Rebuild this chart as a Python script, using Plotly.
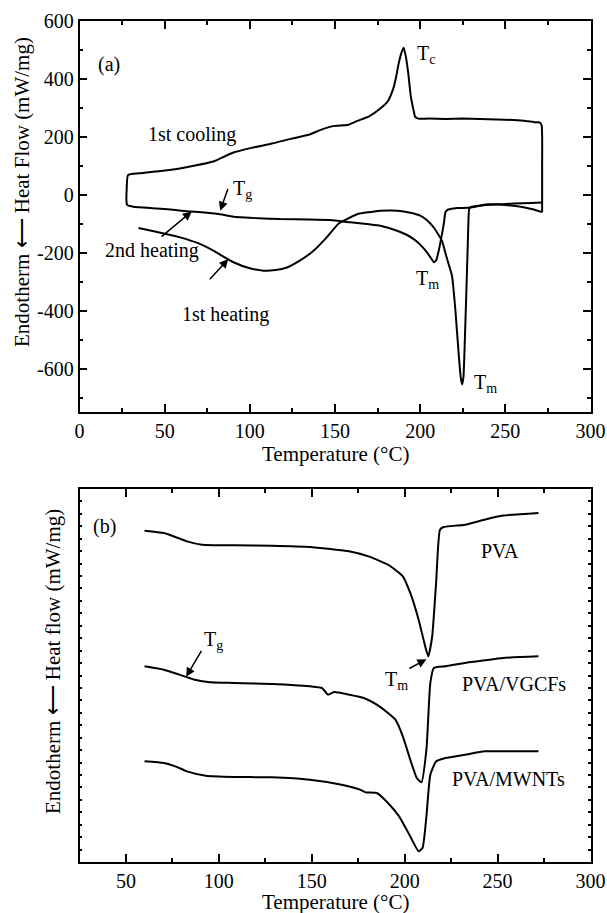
import plotly.graph_objects as go

# ---------- Panel (a) data ----------
heat1_x = [34.6, 45, 59, 70, 78.6, 90.4, 100, 108, 115, 121.8, 130, 137.4, 145, 152, 155, 163, 170, 176.6,
           183, 190.3, 195, 200, 204, 208, 212.8, 215, 216.7, 218.7, 220.7, 222.6, 223.8, 224.6, 225.4, 226.5,
           227.4, 227.9, 228.4, 228.8, 230, 235, 240, 250, 260, 266, 271.6]
heat1_y = [-115, -128, -147, -168, -193, -233, -254, -262, -260, -251, -225, -193, -148, -100, -90, -67, -60, -55,
           -54, -57.5, -63, -72, -88, -113, -159, -205, -239, -280, -400, -549, -630, -655, -630, -450,
           -280, -180, -80, -48, -42, -37, -33, -35, -42, -50, -60]

cool_x = [271.6, 271.6, 271.3, 270, 267.7, 262, 255, 245, 235, 225, 215, 205, 199, 197, 196.2, 194.5, 193, 191.5,
          190.3, 189, 187.3, 186, 184.4, 181, 176.6, 170, 163, 158, 149, 142, 135, 124, 113, 101, 90, 78.6, 67,
          56, 44, 35, 28.5, 27.7, 27.7, 28.2]
cool_y = [-60, 100, 240, 250, 250, 255, 258, 260, 262, 263, 262, 263, 263, 270, 290, 340, 420, 480,
          508, 490, 451, 410, 370, 323, 298, 271, 255, 242, 237, 225, 208, 193, 177, 162, 145, 115, 100,
          88, 80, 74, 68, 20, -30, -37]

heat2_x = [28.2, 31.6, 45, 55, 64.9, 75, 82.6, 88, 94.3, 105, 117.8, 135, 147.2, 158.9, 170, 176.6, 186.4, 192,
           196.2, 200, 204, 206.5, 208, 209.5, 210.9, 212.8, 214, 214.8, 216, 217.7, 222, 229.5, 235.4, 245,
           255, 265, 272]
heat2_y = [-37, -41, -47, -52, -57.5, -62, -67, -73, -78, -81, -84, -85, -87, -95, -102, -107, -124, -138,
           -153, -172, -199, -220, -233, -225, -193, -136, -95, -61, -52, -49, -46, -44, -38, -33,
           -30, -28, -27]

a_yticks = [-600, -400, -200, 0, 200, 400, 600]
a_yticklabels = ["-600", "-400", "-200", "0", "200", "400", "600"]

# ---------- Panel (b) data (arbitrary units) ----------
pva_x = [60, 70.4, 76.6, 82.8, 91, 108, 128.6, 149, 160, 170, 180.5, 191, 199, 203, 207.5, 210.6, 212.7,
         214.8, 216.9, 219, 221, 232.5, 242.9, 253, 272]
pva_y = [26.65, 26.46, 26.14, 25.79, 25.52, 25.47, 25.44, 25.34, 25.17, 24.99, 24.58, 23.91, 22.98, 21.64,
         19.49, 17.61, 16.54, 18.15, 22.44, 26.73, 26.94, 27.13, 27.53, 27.86, 28.07]

vgcf_x = [60, 70.4, 78.7, 87, 95.3, 108, 128.6, 149, 155.6, 158.7, 162, 170, 178, 185, 191, 195, 199, 203,
          206.5, 209, 211.7, 213.8, 215.7, 222, 232.5, 243, 253, 272]
vgcf_y = [15.74, 15.47, 15.07, 14.66, 14.45, 14.40, 14.32, 14.13, 13.99, 13.46, 13.67, 13.46, 13.19, 12.65,
          11.98, 11.45, 10.11, 8.23, 6.76, 6.41, 9.03, 14.40, 15.60, 15.74, 16.01, 16.22, 16.41, 16.54]

mwnt_x = [60, 70.4, 76.6, 82.8, 93, 108, 128.6, 149, 166, 176, 179, 185, 191, 197, 203, 207.5, 209.6,
          211.7, 213.8, 217, 222, 232.5, 243, 253, 272]
mwnt_y = [8.10, 7.96, 7.69, 7.29, 6.94, 6.84, 6.81, 6.62, 6.22, 5.82, 5.60, 5.55, 4.75, 3.67, 2.06, 0.86,
          1.13, 3.67, 7.02, 8.10, 8.36, 8.63, 8.90, 8.90, 8.90]

FONT = "Liberation Serif"
W, H = 607, 913
line = dict(color="black", width=2, shape="spline", smoothing=0.5)

fig = go.Figure()
for xs, ys in [(heat1_x, heat1_y), (cool_x, cool_y), (heat2_x, heat2_y)]:
    fig.add_trace(go.Scatter(x=xs, y=ys, mode="lines", line=line, xaxis="x", yaxis="y",
                             showlegend=False, hoverinfo="skip"))
for xs, ys in [(pva_x, pva_y), (vgcf_x, vgcf_y), (mwnt_x, mwnt_y)]:
    fig.add_trace(go.Scatter(x=xs, y=ys, mode="lines", line=line, xaxis="x2", yaxis="y2",
                             showlegend=False, hoverinfo="skip"))

xdom = [79.5 / W, 590.5 / W]
common = dict(showline=True, linecolor="black", linewidth=1.5, mirror="ticks", ticks="inside",
              tickcolor="black", tickwidth=1.5, showgrid=False, zeroline=False, automargin=False,
              tickfont=dict(family=FONT, size=20, color="black"))
minor = lambda d: dict(dtick=d, ticklen=4, ticks="inside", tickcolor="black", tickwidth=1.5)

fig.update_layout(
    width=W, height=H, margin=dict(l=0, r=0, t=0, b=0),
    paper_bgcolor="white", plot_bgcolor="white",
    font=dict(family=FONT, size=20, color="black"),
    xaxis=dict(domain=xdom, anchor="y", range=[0, 300], tick0=0, dtick=50, ticklen=8,
               minor=minor(25), **common),
    yaxis=dict(domain=[1 - 412 / H, 1 - 21 / H], anchor="x", range=[-750, 600],
               tickmode="array", tickvals=a_yticks, ticktext=a_yticklabels, ticklen=8,
               minor=dict(tickmode="linear", tick0=0, **minor(100)), **common),
    xaxis2=dict(domain=xdom, anchor="y2", range=[25, 300], tick0=0, dtick=50, ticklen=8,
                minor=minor(25), **common),
    yaxis2=dict(domain=[1 - 862 / H, 1 - 489 / H], anchor="x2", range=[0, 30], dtick=1, ticklen=3,
                showticklabels=False, **common),
)

ann = []
def txt(x, y, s, ref="", size=20):
    ann.append(dict(x=x, y=y, xref="x" + ref, yref="y" + ref, text=s, showarrow=False,
                    font=dict(family=FONT, size=size, color="black"), xanchor="center", yanchor="middle"))

def arrow(x0, y0, x1, y1, ref=""):
    ann.append(dict(x=x1, y=y1, ax=x0, ay=y0, xref="x" + ref, yref="y" + ref, axref="x" + ref,
                    ayref="y" + ref, text="", showarrow=True, arrowhead=2, arrowsize=1.2,
                    arrowwidth=1.5, arrowcolor="black"))

# panel (a)
txt(17.3, 450, "(a)")
txt(203.7, 485, "T<sub>c</sub>")
txt(66.2, 208, "1st cooling")
txt(95.5, 18, "T<sub>g</sub>")
arrow(87.4, 25, 82.6, -55)
txt(42.4, -191, "2nd heating")
arrow(47.3, -149, 65.9, -57.5)
txt(85.6, -415, "1st heating")
arrow(75.7, -297, 87.4, -222)
txt(204.4, -294, "T<sub>m</sub>")
txt(238.6, -652, "T<sub>m</sub>")

# panel (b)
txt(38.6, 27.0, "(b)", "2")
txt(251.4, 25.0, "PVA", "2")
txt(258.8, 14.3, "PVA/VGCFs", "2")
txt(255.7, 6.7, "PVA/MWNTs", "2")
txt(97, 17.8, "T<sub>g</sub>", "2")
arrow(91.1, 17.1, 82.4, 14.9, "2")
txt(195.5, 14.6, "T<sub>m</sub>", "2")
arrow(201.7, 15.5, 211.7, 16.3, "2")

# axis titles as paper annotations
def ptxt(xp, yp, s, angle=0, size=21):
    ann.append(dict(x=xp / W, y=1 - yp / H, xref="paper", yref="paper", text=s, showarrow=False,
                    textangle=angle, font=dict(family=FONT, size=size, color="black"),
                    xanchor="center", yanchor="middle"))

ptxt(22, 192, "Endotherm ⟵ Heat Flow (mW/mg)", -90)
ptxt(335, 454, "Temperature (°C)")
ptxt(53, 662, "Endotherm ⟵ Heat flow (mW/mg)", -90)
ptxt(335, 902, "Temperature (°C)")

fig.update_layout(annotations=ann)
fig.write_html("out.html")
